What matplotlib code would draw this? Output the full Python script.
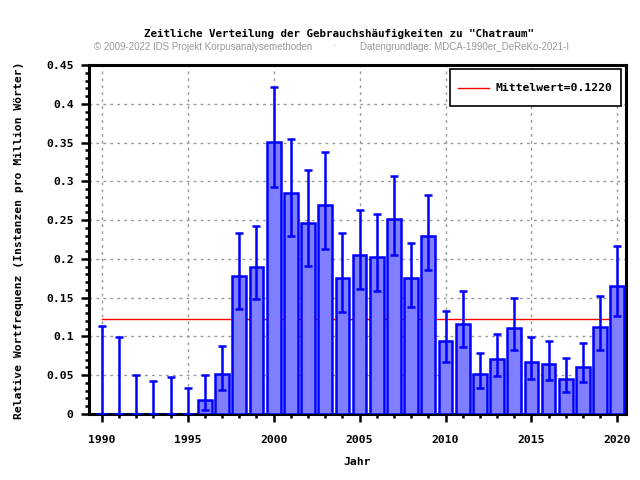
import numpy as np
import matplotlib
matplotlib.use("Agg")
import matplotlib.pyplot as plt
from matplotlib.ticker import MultipleLocator, FuncFormatter
from matplotlib.legend_handler import HandlerLine2D
from matplotlib.lines import Line2D

years = list(range(1990, 2021))
values = [0.0, 0.0, 0.0, 0.0, 0.0, 0.0, 0.0176, 0.052, 0.178, 0.190,
          0.351, 0.285, 0.246, 0.269, 0.176, 0.205, 0.203, 0.252, 0.175, 0.230,
          0.0946, 0.1165, 0.052, 0.0713, 0.111, 0.0675, 0.065, 0.0456, 0.061, 0.1126,
          0.1654]
err_low = [0.0, 0.0, 0.0, 0.0, 0.0, 0.0, 0.0056, 0.031, 0.136, 0.148,
           0.293, 0.230, 0.191, 0.213, 0.132, 0.161, 0.159, 0.205, 0.138, 0.186,
           0.067, 0.086, 0.0335, 0.049, 0.083, 0.045, 0.0438, 0.0288, 0.041, 0.083,
           0.1267]
err_high = [0.114, 0.0997, 0.0499, 0.043, 0.048, 0.034, 0.0507, 0.088, 0.233, 0.243,
            0.422, 0.354, 0.315, 0.338, 0.233, 0.263, 0.258, 0.307, 0.221, 0.283,
            0.133, 0.158, 0.079, 0.1035, 0.150, 0.0997, 0.0946, 0.0726, 0.092, 0.1525,
            0.217]
mean_value = 0.1220

title = 'Zeitliche Verteilung der Gebrauchshäufigkeiten zu "Chatraum"'
subtitle_left = "© 2009-2022 IDS Projekt Korpusanalysemethoden"
subtitle_right = "Datengrundlage: MDCA-1990er_DeReKo-2021-I"

mono = "DejaVu Sans Mono"
blue = "#0000ff"
fs = 8.2

fig = plt.figure(figsize=(6.4, 4.8), dpi=100)
ax = fig.add_axes([0.139, 0.1375, 0.839, 0.727])

x = np.array(years)
vals = np.array(values)
lo = vals - np.array(err_low)
hi = np.array(err_high) - vals

ax.plot([years[0], years[-1]], [mean_value, mean_value], color="red", lw=1,
        label="Mittelwert=%.4f" % mean_value, zorder=2)
ax.bar(x, vals, width=0.8, color="#8080ff", edgecolor=blue, linewidth=1.8, zorder=3)
ax.errorbar(x, vals, yerr=[lo, hi], fmt="none", ecolor=blue, elinewidth=1.8,
            capsize=2.6, capthick=1.8, zorder=4)

ax.set_xlim(1989.25, 2020.5)
ax.set_ylim(0, 0.45)
ax.xaxis.set_major_locator(MultipleLocator(5))
ax.xaxis.set_minor_locator(MultipleLocator(1))
ax.yaxis.set_major_locator(MultipleLocator(0.05))
ax.yaxis.set_minor_locator(MultipleLocator(0.01))
ax.yaxis.set_major_formatter(FuncFormatter(lambda v, p: "%g" % round(v, 2)))
ax.grid(True, which="major", color="#999999", linestyle=(0, (2, 3)), lw=1, zorder=0)
ax.set_axisbelow(True)

for s in ax.spines.values():
    s.set_linewidth(2.2)
ax.tick_params(which="major", length=6, width=1.8, labelsize=fs, pad=9)
ax.tick_params(which="minor", length=3, width=1.8)
ax.tick_params(axis="y", which="major", pad=5)
for lbl in ax.get_xticklabels() + ax.get_yticklabels():
    lbl.set_fontfamily(mono)
    lbl.set_fontweight("bold")

fig.text(357 / 640, 1 - 462 / 480, "Jahr", ha="center", va="center",
         fontfamily=mono, fontweight="bold", fontsize=fs)
fig.text(19 / 640, 1 - 240 / 480, "Relative Wortfrequenz (Instanzen pro Million Wörter)",
         ha="center", va="center", rotation=90, fontfamily=mono, fontweight="bold", fontsize=fs)

fig.text(339 / 640, 1 - 34 / 480, title, ha="center", va="center", fontfamily=mono,
         fontweight="bold", fontsize=7.8)
fig.text(94 / 640, 1 - 46.5 / 480, subtitle_left, ha="left", va="center", color="#999999",
         fontfamily="Liberation Sans", fontsize=7)
fig.text(360 / 640, 1 - 46.5 / 480, subtitle_right, ha="left", va="center", color="#999999",
         fontfamily="Liberation Sans", fontsize=7)
fig.text(335 / 640, 1 - 46.5 / 480, "·", ha="center", va="center", color="#999999", fontsize=7)


# move the legend line down so it sits level with the label text
def shift_line(handle, orig):
    handle.update_from(orig)
    handle.set_ydata(np.asarray(handle.get_ydata()) - 2.3)


leg = ax.legend(loc="upper right", prop={"family": mono, "weight": "bold", "size": fs},
                fancybox=False, edgecolor="black", framealpha=1, borderpad=0.75,
                handleheight=2.3, handlelength=2.7, handletextpad=0.55,
                borderaxespad=0, bbox_to_anchor=(0.9907, 0.9885),
                handler_map={Line2D: HandlerLine2D(update_func=shift_line)})
leg.get_frame().set_linewidth(1.2)

fig.savefig("out.png", dpi=100)
